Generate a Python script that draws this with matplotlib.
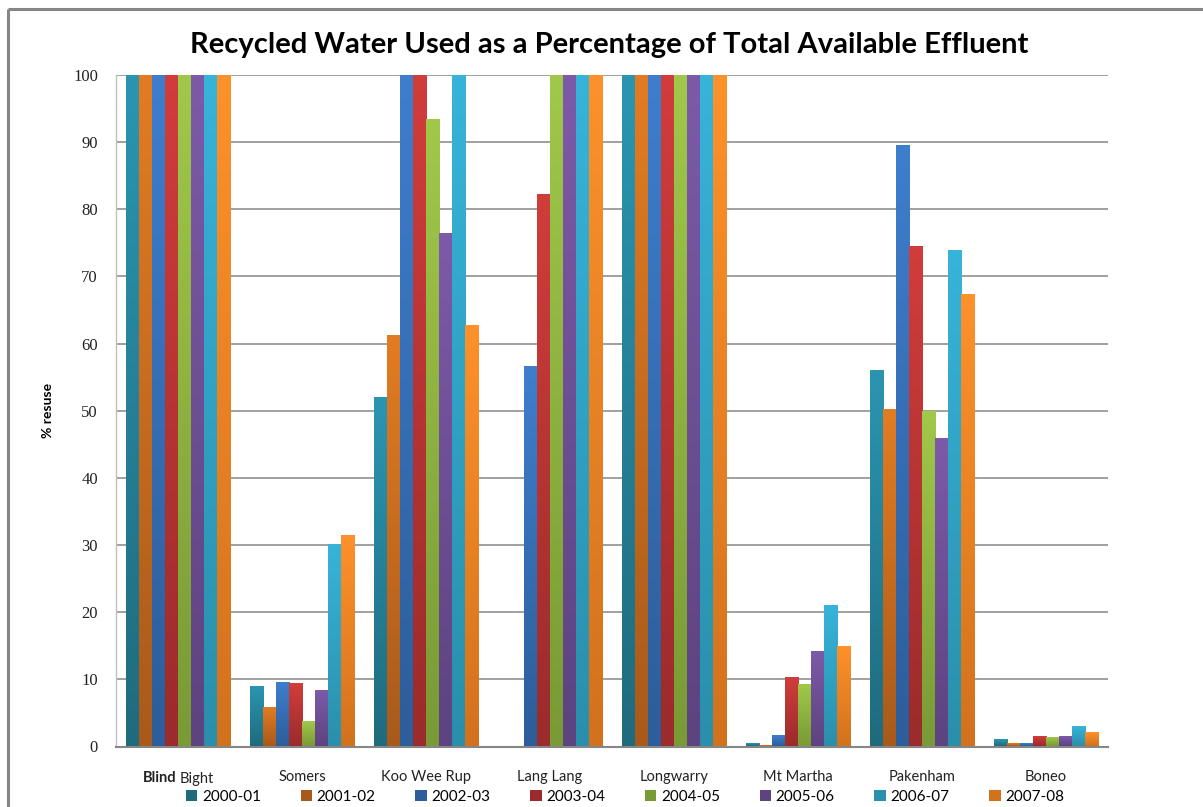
import numpy as np
import matplotlib
matplotlib.use("Agg")
import matplotlib.pyplot as plt
from matplotlib.colors import to_rgb
from matplotlib.lines import Line2D

# Treatment plants (categories) and reporting years (series)
plants = ["Blind Bight", "Somers", "Koo Wee Rup", "Lang Lang",
          "Longwarry", "Mt Martha", "Pakenham", "Boneo"]
years = ["2000-01", "2001-02", "2002-03", "2003-04",
         "2004-05", "2005-06", "2006-07", "2007-08"]

# % of effluent reused, one list per year, in plant order
reuse_2000_01 = [100, 8.9, 51.9, 0, 100, 0.3, 55.9, 1.0]
reuse_2001_02 = [100, 5.7, 61.2, 0, 100, 0.1, 50.1, 0.4]
reuse_2002_03 = [100, 9.5, 100, 56.5, 100, 1.6, 89.4, 0.4]
reuse_2003_04 = [100, 9.3, 100, 82.1, 100, 10.2, 74.4, 1.4]
reuse_2004_05 = [100, 3.7, 93.3, 100, 100, 9.2, 49.8, 1.3]
reuse_2005_06 = [100, 8.2, 76.3, 100, 100, 14.1, 45.8, 1.4]
reuse_2006_07 = [100, 30.0, 100, 100, 100, 20.9, 73.8, 2.9]
reuse_2007_08 = [100, 31.4, 62.6, 100, 100, 14.8, 67.3, 2.0]

series = [reuse_2000_01, reuse_2001_02, reuse_2002_03, reuse_2003_04,
          reuse_2004_05, reuse_2005_06, reuse_2006_07, reuse_2007_08]

y_ticks = list(range(0, 101, 10))

# Gradient end colours per series (top, bottom)
top_colors = ["#2b95b1", "#e27c22", "#3e7ecd", "#d03d3b",
              "#a0c84a", "#7c5aa8", "#37b4d9", "#fd912b"]
bottom_colors = ["#1f6b7e", "#a95a1b", "#2d5d9a", "#9b2b2c",
                 "#799a35", "#5d4380", "#2a8fab", "#d2721d"]

FONT = "Lato"

fig = plt.figure(figsize=(12.03, 8.07), dpi=100)
fig.patch.set_facecolor("white")
W, H = 1203, 807

ax = fig.add_axes([116 / W, 1 - 746.5 / H, (1108 - 116) / W, (746.5 - 75) / H])
ax.set_facecolor("white")

n_series = len(series)
bar_w = 0.105
x = np.arange(len(plants))

ax.set_xlim(-0.5, len(plants) - 0.5)
ax.set_ylim(0, 100)
ax.set_autoscale_on(False)

handles = []
for i, (vals, c_top, c_bot) in enumerate(zip(series, top_colors, bottom_colors)):
    offs = (i - (n_series - 1) / 2) * bar_w
    bars = ax.bar(x + offs, vals, width=bar_w, color=c_top, linewidth=0, zorder=2)
    handles.append(plt.Rectangle((0, 0), 1, 1, facecolor=c_bot))
    t = np.array(to_rgb(c_top))
    b = np.array(to_rgb(c_bot))
    grad = np.linspace(0, 1, 64)[:, None] * (b - t) + t  # top -> bottom
    grad = grad[:, None, :]
    for bar in bars:
        h = bar.get_height()
        if h <= 0:
            continue
        x0 = bar.get_x()
        ax.imshow(grad, extent=(x0, x0 + bar.get_width(), 0, h),
                  origin="upper", aspect="auto", zorder=3, interpolation="bilinear")

ax.set_xlim(-0.5, len(plants) - 0.5)
ax.set_ylim(0, 100)

# Grid and axes
ax.set_yticks(y_ticks)
ax.yaxis.grid(True, color="#868686", linewidth=1.1, zorder=0)
ax.set_axisbelow(True)
for s in ["top", "right"]:
    ax.spines[s].set_visible(False)
ax.spines["left"].set_color("#bfbfbf")
ax.spines["left"].set_linewidth(1.0)
ax.spines["bottom"].set_color("#868686")
ax.spines["bottom"].set_linewidth(1.5)
ax.tick_params(axis="y", length=0, pad=13)
ax.tick_params(axis="x", length=0, pad=17)
for lab in ax.get_yticklabels():
    lab.set_fontfamily("Liberation Serif")
    lab.set_fontsize(12)
    lab.set_color("#222222")

ax.set_xticks(x)
ax.set_xticklabels([""] + plants[1:], fontfamily=FONT, fontsize=10.5, color="#222222")
# first category label: "Blind" in bold, "Bight" regular
ax.annotate("Blind", xy=(x[0], 0), xycoords=("data", "axes fraction"),
            xytext=(-1, -32), textcoords="offset pixels", ha="right", va="center",
            fontfamily=FONT, fontsize=10.5, fontweight="bold", color="#222222")
ax.annotate("Bight", xy=(x[0], 0), xycoords=("data", "axes fraction"),
            xytext=(2, -32), textcoords="offset pixels", ha="left", va="center",
            fontfamily=FONT, fontsize=10.5, color="#222222")

ax.set_ylabel("% resuse", fontfamily=FONT, fontsize=10, fontweight="bold")
ax.yaxis.set_label_coords((54 - 116) / 992, 0.5)

fig.text(609 / W, 1 - 45 / H,
         "Recycled Water Used as a Percentage of Total Available Effluent",
         ha="center", va="center", fontfamily=FONT, fontsize=21, fontweight="bold")

fig.legend(handles, years, loc="center", bbox_to_anchor=(625 / W, 1 - 797 / H),
           ncol=8, frameon=False, handlelength=0.75, handleheight=0.75,
           handletextpad=0.3, columnspacing=2.6,
           prop={"family": FONT, "size": 11})

# Outer chart frame (left and top edges)
fig.add_artist(Line2D([8 / W, 8 / W], [-0.01, 1 - 9 / H], transform=fig.transFigure,
                      color="#868686", linewidth=2.2, solid_capstyle="butt"))
fig.add_artist(Line2D([8 / W, 1.01], [1 - 9 / H, 1 - 9 / H], transform=fig.transFigure,
                      color="#868686", linewidth=2.2, solid_capstyle="butt"))

fig.savefig("out.png", dpi=100, facecolor="white")
